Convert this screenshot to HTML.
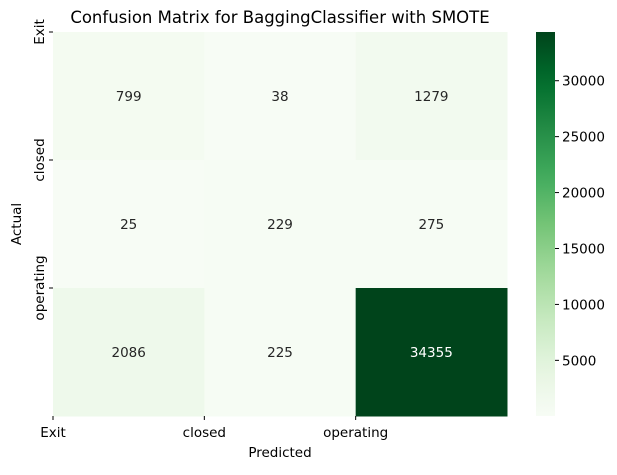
<!DOCTYPE html>
<html><head><meta charset="utf-8"><style>
body{margin:0;background:#fff;font-family:"Liberation Sans","DejaVu Sans",sans-serif;}
svg text{font-family:"DejaVu Sans","Liberation Sans",sans-serif;}
</style></head><body>
<svg id="chart" width="617" height="470" xmlns="http://www.w3.org/2000/svg">
<defs><linearGradient id="cbgrad" x1="0" y1="1" x2="0" y2="0"></linearGradient></defs>
<text x="280" y="23" font-size="16.5" text-anchor="middle">Confusion Matrix for BaggingClassifier with SMOTE</text>
<g id="cells"></g>
<g id="axes"></g>
<text x="280" y="457" font-size="13.5" text-anchor="middle">Predicted</text>
<text transform="translate(21,224) rotate(-90)" font-size="13.5" text-anchor="middle">Actual</text>
<rect x="536" y="32" width="19" height="384" fill="url(#cbgrad)"/>
<g id="cbticks"></g>
</svg>
<script>
const labels = ["Exit","closed","operating"];
const matrix = [[799,38,1279],[25,229,275],[2086,225,34355]];
const cbTicks = [5000,10000,15000,20000,25000,30000];
const stops=["#f7fcf5","#e5f5e0","#c7e9c0","#a1d99b","#74c476","#41ab5d","#238b45","#006d2c","#00441b"];
const NS="http://www.w3.org/2000/svg";
const X0=53,Y0=32,W=454,H=384;
const flat=matrix.flat();const vmin=Math.min(...flat),vmax=Math.max(...flat);
function hex(c){return [1,3,5].map(i=>parseInt(c.substr(i,2),16));}
function color(v){let t=(v-vmin)/(vmax-vmin);t=Math.max(0,Math.min(1,t));const p=t*(stops.length-1);const i=Math.min(Math.floor(p),stops.length-2);const f=p-i;const a=hex(stops[i]),b=hex(stops[i+1]);const c=a.map((x,k)=>Math.round(x+(b[k]-x)*f));return `rgb(${c.join(',')})`;}
function lum(v){const t=(v-vmin)/(vmax-vmin);return t>0.5;}
function mk(tag,attrs,parent){const e=document.createElementNS(NS,tag);for(const k in attrs)e.setAttribute(k,attrs[k]);parent.appendChild(e);return e;}
const n=labels.length,cw=W/n,ch=H/n;
const cells=document.getElementById('cells'),axes=document.getElementById('axes');
matrix.forEach((row,r)=>row.forEach((v,c)=>{
 const rc=mk('rect',{x:X0+c*cw,y:Y0+r*ch,width:cw+0.5,height:ch+0.5,fill:color(v)},cells);
 
 
 const t=mk('text',{x:X0+c*cw+cw/2,y:Y0+r*ch+ch/2+5,'font-size':13.5,'text-anchor':'middle',fill:lum(v)?'#fff':'#262626'},cells);
 t.textContent=v;
 
 
}));
labels.forEach((l,i)=>{
 const x=X0+i*cw;
 mk('line',{x1:x,y1:Y0+H,x2:x,y2:Y0+H+4,stroke:'#000'},axes);
 const t=mk('text',{x:x,y:Y0+H+21,'font-size':13.5,'text-anchor':'middle'},axes);
 t.textContent=l;
 
 
 const y=Y0+i*ch;
 mk('line',{x1:X0-4,y1:y,x2:X0,y2:y,stroke:'#000'},axes);
 const ty=mk('text',{transform:`translate(${X0-9},${y}) rotate(-90)`,'font-size':13.5,'text-anchor':'middle'},axes);
 ty.textContent=l;
 
 
});
const g=document.getElementById('cbgrad');
for(let k=0;k<=20;k++){const v=vmin+(vmax-vmin)*k/20;mk('stop',{offset:k/20,'stop-color':color(v)},g);}
const cbt=document.getElementById('cbticks');
cbTicks.forEach(v=>{
 const y=Y0+H-(v-vmin)/(vmax-vmin)*H;
 mk('line',{x1:555,y1:y,x2:559,y2:y,stroke:'#000'},cbt);
 const t=mk('text',{x:562,y:y+5,'font-size':13.5},cbt);
 t.textContent=v;
 
 
});
</script>
</body></html>
